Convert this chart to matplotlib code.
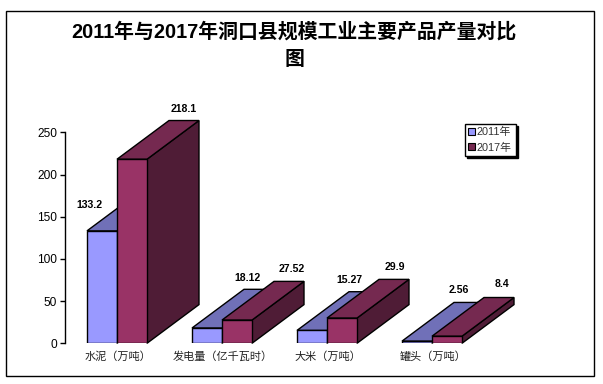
import matplotlib
matplotlib.use("Agg")
import matplotlib.pyplot as plt
from matplotlib.patches import Patch, Polygon, Rectangle
import numpy as np

plt.rcParams['font.family'] = ['Liberation Sans', 'Noto Sans CJK SC']

title = "2011年与2017年洞口县规模工业主要产品产量对比\n图"
categories = ["水泥（万吨）", "发电量（亿千瓦时）", "大米（万吨）", "罐头（万吨）"]
series_names = ["2011年", "2017年"]
values_2011 = [133.2, 18.12, 15.27, 2.56]
values_2017 = [218.1, 27.52, 29.9, 8.4]
value_labels_2011 = ["133.2", "18.12", "15.27", "2.56"]
value_labels_2017 = ["218.1", "27.52", "29.9", "8.4"]
yticks = [0, 50, 100, 150, 200, 250]

# label offsets from the bar's front top, in pixels
offsets_2011 = [(-13, 26), (40, 50), (37, 50), (42, 51)]
offsets_2017 = [(52, 50), (55, 51), (53, 51), (55, 52)]

W, H = 603, 384
GROUP_PX = 105
BAR_W = 30 / GROUP_PX
DEPTH_X = 52 / GROUP_PX
DEPTH_Y = 38.7 / (211 / 250)

fig = plt.figure(figsize=(W / 100, H / 100), dpi=100, facecolor="white")
ax = fig.add_axes([64.5 / W, (H - 343.3) / H, 420 / W, 211 / H])
ax.set_facecolor("none")


def draw_series(xpos, values, front, top, side, z):
    ax.bar(xpos, values, BAR_W, color=front, edgecolor="black", linewidth=1, zorder=z + 1)
    for x, v in zip(xpos, values):
        x0, x1 = x - BAR_W / 2, x + BAR_W / 2
        ax.add_patch(Polygon([(x1, 0), (x1 + DEPTH_X, DEPTH_Y), (x1 + DEPTH_X, v + DEPTH_Y), (x1, v)],
                             facecolor=side, edgecolor="black", linewidth=1, zorder=z, clip_on=False))
        ax.add_patch(Polygon([(x0, v), (x0 + DEPTH_X, v + DEPTH_Y), (x1 + DEPTH_X, v + DEPTH_Y), (x1, v)],
                             facecolor=top, edgecolor="black", linewidth=1, zorder=z, clip_on=False))


x = np.arange(len(categories))
draw_series(x - BAR_W / 2, values_2011, "#9999FF", "#7070B8", "#4D4D80", 2)
draw_series(x + BAR_W / 2, values_2017, "#993366", "#752950", "#4F1C36", 4)

for xs, vals, labs, offs in [(x - BAR_W / 2, values_2011, value_labels_2011, offsets_2011),
                             (x + BAR_W / 2, values_2017, value_labels_2017, offsets_2017)]:
    for xi, v, lab, off in zip(xs, vals, labs, offs):
        ax.annotate(lab, (xi, v), xytext=off, textcoords="offset pixels", ha="center", va="center",
                    fontsize=7.6, fontweight="bold", color="black", zorder=10, annotation_clip=False)

ax.set_xlim(-0.5, len(categories) - 0.5)
ax.set_ylim(0, 250)
ax.set_yticks(yticks)
ax.set_xticks(x + 1 / GROUP_PX)
ax.set_xticklabels(categories, fontsize=8, color="#222222")
ax.tick_params(axis="x", length=0, pad=5.5)
ax.tick_params(axis="y", length=3.5, width=1, labelsize=8.6, pad=2, color="black")
for s in ["top", "right", "bottom"]:
    ax.spines[s].set_visible(False)
ax.spines["left"].set_linewidth(1)

handles = [Patch(facecolor="#9999FF", edgecolor="black", linewidth=0.8),
           Patch(facecolor="#752950", edgecolor="black", linewidth=0.8)]
leg = fig.legend(handles, series_names, loc="upper left",
                 bbox_to_anchor=(464.5 / W, (H - 123.5) / H), fontsize=7.8, labelcolor="#333333",
                 fancybox=False, framealpha=1, edgecolor="black",
                 shadow={"ox": 1.5, "oy": -1.5, "facecolor": "black", "edgecolor": "black", "alpha": 1},
                 borderpad=0.35, labelspacing=0.46, handlelength=0.6, handleheight=0.6,
                 handletextpad=0.2, borderaxespad=0)
leg.get_frame().set_linewidth(1)
leg.set_zorder(20)

fig.patches.append(Rectangle((5.5 / W, (H - 375.5) / H), 588 / W, 365 / H, transform=fig.transFigure,
                             fill=False, edgecolor="black", linewidth=1))
fig.text(294 / W, (H - 45.5) / H, title, ha="center", va="center", fontsize=14.3,
         fontweight="bold", color="black", linespacing=1.6)

fig.savefig("out.png", dpi=100)
